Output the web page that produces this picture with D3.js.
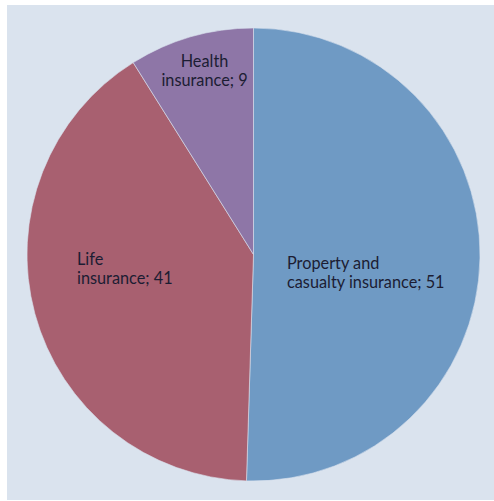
<!DOCTYPE html>
<html>
<head>
<meta charset="utf-8">
<script src="https://cdn.jsdelivr.net/npm/d3@7"></script>
<style>
  html, body { margin: 0; padding: 0; background: #ffffff; }
  svg { display: block; }
  text { font-family: Lato, "Open Sans", sans-serif; font-size: 16.3px; fill: #1c1d33; }
</style>
</head>
<body>
<svg id="chart" width="494" height="501"></svg>
<script>
// Insurance segments and their shares
const categories = ["Property and casualty insurance", "Life insurance", "Health insurance"];
const values = [51, 41, 9];
const labelLines = [
  ["Property and", "casualty insurance; 51"],
  ["Life", "insurance; 41"],
  ["Health", "insurance; 9"]
];
const colors = ["#6f9ac4", "#a86070", "#8e76a7"];

const W = 494, H = 501;
const cx = 253.5, cy = 254.5, R = 226.5;

const svg = d3.select("#chart");

// panel background
svg.append("rect")
  .attr("x", 7).attr("y", 5)
  .attr("width", W - 7).attr("height", H - 6)
  .attr("fill", "#dae3ee");

const data = categories.map((c, i) => ({ name: c, value: values[i], lines: labelLines[i], color: colors[i] }));

const pie = d3.pie().value(d => d.value).sort(null).startAngle(0).endAngle(2 * Math.PI);
const arc = d3.arc().innerRadius(0).outerRadius(R);

const g = svg.append("g").attr("transform", `translate(${cx},${cy})`);
const arcs = pie(data);

g.selectAll("path.slice")
  .data(arcs)
  .join("path")
  .attr("class", "slice")
  .attr("d", arc)
  .attr("fill", d => d.data.color)
  .attr("stroke", "#dae3ee")
  .attr("stroke-width", 0.6);

// label blocks: position of the first baseline, relative to the pie centre
const labelLayout = {
  "Property and casualty insurance": { x: 33.5, y: 14.5, anchor: "start" },
  "Life insurance": { x: -176.5, y: 10.5, anchor: "start" },
  "Health insurance": { x: -49, y: -187.5, anchor: "middle" }
};

const lineH = 18.5;
arcs.forEach(d => {
  const lay = labelLayout[d.data.name];
  const t = g.append("text").attr("text-anchor", lay.anchor);
  d.data.lines.forEach((ln, i) => {
    t.append("tspan").attr("x", lay.x).attr("y", lay.y + i * lineH).text(ln);
  });
});
</script>
</body>
</html>
